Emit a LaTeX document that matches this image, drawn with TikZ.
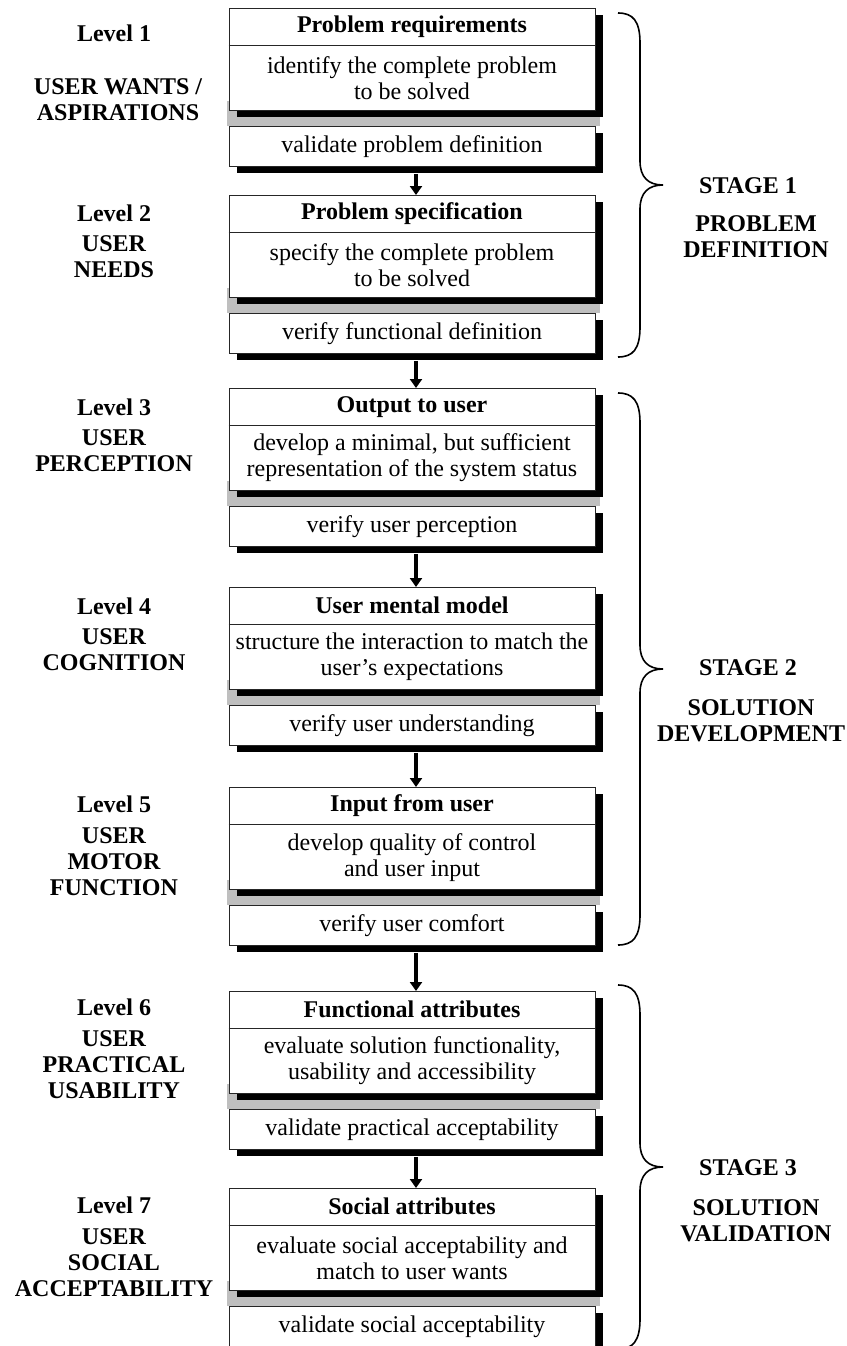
\documentclass[tikz,border=0pt]{standalone}
\usepackage{fontspec}
\setmainfont{Liberation Serif}
\usetikzlibrary{positioning,shadows,arrows.meta,backgrounds}

% curly brace on the right, #1 = x, #2 = top, #3 = bottom
\newcommand{\stagebrace}[3]{%
  \pgfmathsetmacro{\bmid}{(#2+#3)/2}
  \draw[bracepen] (#1,#2) .. controls (#1+15,#2) and (#1+22,#2+8) .. (#1+22,#2+30)
    -- (#1+22,\bmid-24) .. controls (#1+22,\bmid-8) and (#1+30,\bmid) .. (#1+45,\bmid)
    .. controls (#1+30,\bmid) and (#1+22,\bmid+8) .. (#1+22,\bmid+24)
    -- (#1+22,#3-30) .. controls (#1+22,#3-8) and (#1+15,#3) .. (#1,#3);
}

\begin{document}
\begin{tikzpicture}[x=1pt,y=-1pt,font=\fontsize{24}{26}\selectfont,
  box/.style={draw=black!85,line width=0.9pt,fill=white,minimum width=366pt,inner sep=0pt,
    drop shadow={shadow xshift=8pt,shadow yshift=-7pt,fill=black,opacity=1}},
  mainbox/.style={box,minimum height=102pt,anchor=north},
  checkbox/.style={box,minimum height=40pt,below=15pt of #1},
  headtext/.style={minimum height=37pt,inner sep=0pt,anchor=north,font=\fontsize{24}{26}\selectfont\bfseries},
  bodytext/.style={minimum height=65pt,inner sep=0pt,align=center,below=0pt of #1},
  sepline/.style={draw=black!85,line width=0.9pt},
  band/.style={fill=black!25},
  flow/.style={line width=4pt,-{Triangle[width=12pt,length=9pt]}},
  lvl/.style={font=\fontsize{24}{26}\selectfont\bfseries,align=center},
  bracepen/.style={line width=1.6pt}]
  \useasboundingbox (0,0) rectangle (846,1346);

  % Level 1
  \node[mainbox] (m1) at (412,8) {};
  \node[headtext] (t1) at (m1.north) {Problem requirements};
  \node[bodytext=t1] (b1) {identify the complete problem\\to be solved};
  \node[checkbox=m1] (v1) {validate problem definition};
  \draw[sepline] (m1.west |- t1.south) -- (m1.east |- t1.south);
  \node[lvl] (l1) at (114,33) {Level 1};
  \node[lvl] (u1) at (118,99.5) {USER WANTS /\\ASPIRATIONS};

  % Level 2
  \node[mainbox] (m2) at (412,195) {};
  \node[headtext] (t2) at (m2.north) {Problem specification};
  \node[bodytext=t2] (b2) {specify the complete problem\\to be solved};
  \node[checkbox=m2] (v2) {verify functional definition};
  \draw[sepline] (m2.west |- t2.south) -- (m2.east |- t2.south);
  \node[lvl] (l2) at (114,213) {Level 2};
  \node[lvl] (u2) at (114,257) {USER\\NEEDS};

  % Level 3
  \node[mainbox] (m3) at (412,388) {};
  \node[headtext] (t3) at (m3.north) {Output to user};
  \node[bodytext=t3] (b3) {develop a minimal, but sufficient\\representation of the system status};
  \node[checkbox=m3] (v3) {verify user perception};
  \draw[sepline] (m3.west |- t3.south) -- (m3.east |- t3.south);
  \node[lvl] (l3) at (114,407) {Level 3};
  \node[lvl] (u3) at (114,451) {USER\\PERCEPTION};

  % Level 4
  \node[mainbox] (m4) at (412,587) {};
  \node[headtext] (t4) at (m4.north) {User mental model};
  \node[bodytext=t4] (b4) {structure the interaction to match the\\user’s expectations};
  \node[checkbox=m4] (v4) {verify user understanding};
  \draw[sepline] (m4.west |- t4.south) -- (m4.east |- t4.south);
  \node[lvl] (l4) at (114,606) {Level 4};
  \node[lvl] (u4) at (114,649.5) {USER\\COGNITION};

  % Level 5
  \node[mainbox] (m5) at (412,787) {};
  \node[headtext] (t5) at (m5.north) {Input from user};
  \node[bodytext=t5] (b5) {develop quality of control\\and user input};
  \node[checkbox=m5] (v5) {verify user comfort};
  \draw[sepline] (m5.west |- t5.south) -- (m5.east |- t5.south);
  \node[lvl] (l5) at (114,804) {Level 5};
  \node[lvl] (u5) at (114,862) {USER\\MOTOR\\FUNCTION};

  % Level 6
  \node[mainbox] (m6) at (412,991) {};
  \node[headtext] (t6) at (m6.north) {Functional attributes};
  \node[bodytext=t6] (b6) {evaluate solution functionality,\\usability and accessibility};
  \node[checkbox=m6] (v6) {validate practical acceptability};
  \draw[sepline] (m6.west |- t6.south) -- (m6.east |- t6.south);
  \node[lvl] (l6) at (114,1007) {Level 6};
  \node[lvl] (u6) at (114,1064.5) {USER\\PRACTICAL\\USABILITY};

  % Level 7
  \node[mainbox] (m7) at (412,1188) {};
  \node[headtext] (t7) at (m7.north) {Social attributes};
  \node[bodytext=t7] (b7) {evaluate social acceptability and\\match to user wants};
  \node[checkbox=m7] (v7) {validate social acceptability};
  \draw[sepline] (m7.west |- t7.south) -- (m7.east |- t7.south);
  \node[lvl] (l7) at (114,1205) {Level 7};
  \node[lvl] (u7) at (114,1262.5) {USER\\SOCIAL\\ACCEPTABILITY};

  % grey strips between box and check
  \begin{scope}[on background layer]
    \fill[band] ([shift={(-2pt,10pt)}]m1.south west) rectangle ([xshift=5pt]v1.north east);
    \fill[band] ([shift={(-2pt,10pt)}]m2.south west) rectangle ([xshift=5pt]v2.north east);
    \fill[band] ([shift={(-2pt,10pt)}]m3.south west) rectangle ([xshift=5pt]v3.north east);
    \fill[band] ([shift={(-2pt,10pt)}]m4.south west) rectangle ([xshift=5pt]v4.north east);
    \fill[band] ([shift={(-2pt,10pt)}]m5.south west) rectangle ([xshift=5pt]v5.north east);
    \fill[band] ([shift={(-2pt,10pt)}]m6.south west) rectangle ([xshift=5pt]v6.north east);
    \fill[band] ([shift={(-2pt,10pt)}]m7.south west) rectangle ([xshift=5pt]v7.north east);
  \end{scope}

  % arrows
  \draw[flow] ([shift={(4pt,-7pt)}]v1.south) -- ([xshift=4pt]m2.north);
  \draw[flow] ([shift={(4pt,-7pt)}]v2.south) -- ([xshift=4pt]m3.north);
  \draw[flow] ([shift={(4pt,-7pt)}]v3.south) -- ([xshift=4pt]m4.north);
  \draw[flow] ([shift={(4pt,-7pt)}]v4.south) -- ([xshift=4pt]m5.north);
  \draw[flow] ([shift={(4pt,-7pt)}]v5.south) -- ([xshift=4pt]m6.north);
  \draw[flow] ([shift={(4pt,-7pt)}]v6.south) -- ([xshift=4pt]m7.north);

  % stages
  \stagebrace{618}{13}{357}
  \stagebrace{618}{393}{945}
  \stagebrace{618}{985}{1349}
  \node[lvl] (s1) at (748,186) {STAGE 1};
  \node[lvl] (d1) at (756,237) {PROBLEM\\DEFINITION};
  \node[lvl] (s2) at (748,668) {STAGE 2};
  \node[lvl] (d2) at (751,721) {SOLUTION\\DEVELOPMENT};
  \node[lvl] (s3) at (748,1168) {STAGE 3};
  \node[lvl] (d3) at (756,1221) {SOLUTION\\VALIDATION};
\end{tikzpicture}
\end{document}
